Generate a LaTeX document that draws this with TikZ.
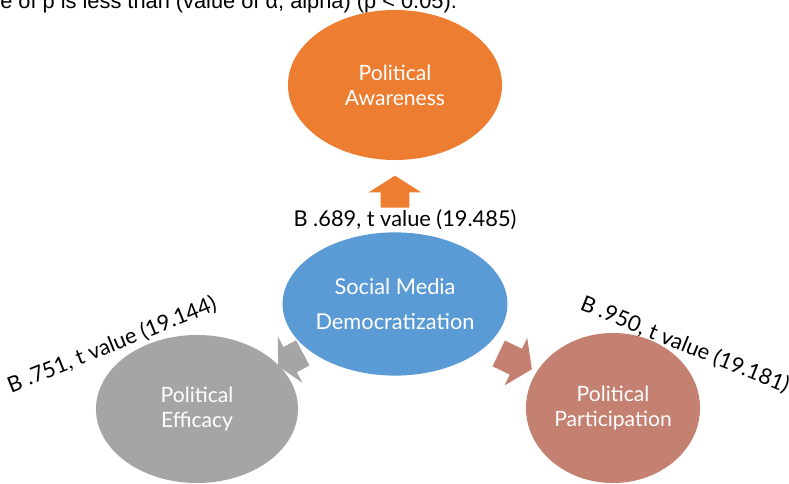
\documentclass[tikz,border=0pt]{standalone}
\usepackage{fontspec}
\setmainfont{Lato}
\newfontfamily\notefont{Liberation Sans}
\usetikzlibrary{positioning, calc, shapes}
\definecolor{awOrange}{RGB}{237,125,49}
\definecolor{smBlue}{RGB}{91,155,213}
\definecolor{efGray}{RGB}{165,165,165}
\definecolor{paRed}{RGB}{196,128,112}
\tikzset{bubble/.style={ellipse, inner sep=0pt, text=white, align=center, font=\fontsize{15}{17.7}\selectfont}}
\tikzset{blockarrow/.style={single arrow, inner sep=0pt, inner ysep=0.35cm, single arrow head extend=0.3cm, single arrow tip angle=115, sloped, allow upside down}}
\tikzset{coef/.style={inner sep=0pt, font=\fontsize{15.5}{18}\selectfont}}

\begin{document}
\begin{tikzpicture}[x=0.025cm, y=0.025cm]
  \useasboundingbox (0,0) rectangle (789,484);
  \clip (0,0) rectangle (789,484);

  \node[anchor=base west, inner sep=0pt, font=\notefont\fontsize{15.5}{18}\selectfont] (note) at (0,475) {e of p is less than (value of α, alpha) (p < 0.05).};

  \node[bubble, fill=awOrange, minimum width=5.35cm, minimum height=3.75cm] (aw) at (395,399) {Political\\Awareness};
  \node[bubble, fill=smBlue, minimum width=5.6cm, minimum height=3.58cm, font=\fontsize{15.5}{24.8}\selectfont] (sm) at (395,180) {Social Media\\Democratization};
  \node[bubble, fill=efGray, minimum width=5.05cm, minimum height=3.7cm] (ef) at (197,75) {Political\\Efficacy};
  \node[bubble, fill=paRed, minimum width=4.35cm, minimum height=3.75cm] (pa) at (613,76) {Political\\Participation};

  \path (sm) -- node[blockarrow, fill=awOrange, minimum height=0.8cm] (arAw) {} (aw);
  \path (sm) -- node[blockarrow, fill=efGray, minimum height=0.7cm, single arrow tip angle=125] (arEf) {} (ef);
  \path (sm) -- node[blockarrow, fill=paRed, minimum height=0.92cm, single arrow tip angle=112] (arPa) {} (pa);

  \node[coef] (lAw) at (405,264) {B .689, t value (19.485)};
  \node[coef, rotate=22] (lEf) at (112,139) {B .751, t value (19.144)};
  \node[coef, rotate=-22] (lPa) at (685,139) {B .950, t value (19.181)};
\end{tikzpicture}
\end{document}
